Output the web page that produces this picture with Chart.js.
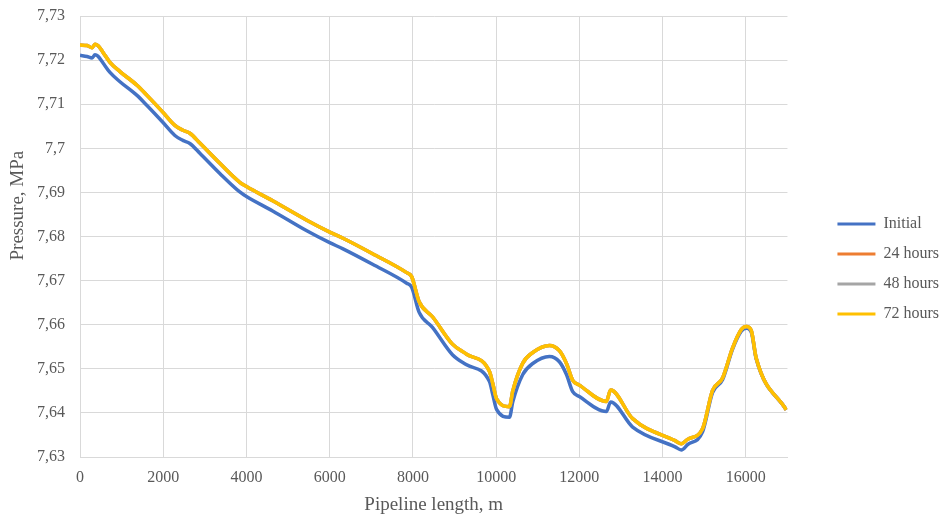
<!DOCTYPE html>
<html>
<head>
<meta charset="utf-8">
<script src="https://cdn.jsdelivr.net/npm/chart.js@4.4.1/dist/chart.umd.min.js"></script>
<style>
  html, body { margin: 0; padding: 0; background: #ffffff; }
  #wrap { width: 944px; height: 515px; position: relative; }
</style>
</head>
<body>
<div id="wrap"><canvas id="chart"></canvas></div>
<script>
// Distance along the pipeline, m
const lengths = [0, 170, 290, 360, 430, 550, 720, 960, 1370, 1610, 1990, 2280, 2470, 2640, 2880, 3360, 3840, 4010, 4630, 5450, 6000, 6320, 7030, 7850, 7970, 8150, 8470, 8950, 9290, 9840, 9920, 10010, 10320, 10400, 10640, 10880, 11280, 11520, 11690, 11840, 12000, 12650, 12750, 13280, 14300, 14450, 14600, 14960, 15200, 15440, 15680, 15890, 16010, 16130, 16250, 16970];

// Pressure profiles, MPa
const initial = [7.7211, 7.7208, 7.7205, 7.7212, 7.7209, 7.7194, 7.7172, 7.7151, 7.7120, 7.7097, 7.7059, 7.7029, 7.7018, 7.7011, 7.6989, 7.6943, 7.6901, 7.6890, 7.6858, 7.6813, 7.6786, 7.6772, 7.6737, 7.6694, 7.6685, 7.6628, 7.6594, 7.6532, 7.6509, 7.6471, 7.6441, 7.6408, 7.6390, 7.6425, 7.6487, 7.6512, 7.6528, 7.6516, 7.6487, 7.6448, 7.6437, 7.6403, 7.6425, 7.6368, 7.6323, 7.6316, 7.6328, 7.6357, 7.6446, 7.6475, 7.6544, 7.6585, 7.6592, 7.6583, 7.6522, 7.6407];
const hours24 = [7.7234, 7.7233, 7.7228, 7.7236, 7.7233, 7.7218, 7.7195, 7.7174, 7.7143, 7.7120, 7.7082, 7.7052, 7.7041, 7.7034, 7.7012, 7.6966, 7.6923, 7.6913, 7.6881, 7.6837, 7.6810, 7.6796, 7.6761, 7.6718, 7.6709, 7.6652, 7.6618, 7.6556, 7.6533, 7.6494, 7.6466, 7.6432, 7.6414, 7.6450, 7.6513, 7.6537, 7.6553, 7.6541, 7.6512, 7.6474, 7.6463, 7.6426, 7.6452, 7.6387, 7.6337, 7.6330, 7.6340, 7.6364, 7.6451, 7.6479, 7.6547, 7.6589, 7.6596, 7.6587, 7.6524, 7.6407];
const hours48 = [7.7234, 7.7233, 7.7228, 7.7236, 7.7233, 7.7218, 7.7195, 7.7174, 7.7143, 7.7120, 7.7082, 7.7052, 7.7041, 7.7034, 7.7012, 7.6966, 7.6923, 7.6913, 7.6881, 7.6837, 7.6810, 7.6796, 7.6761, 7.6718, 7.6709, 7.6652, 7.6618, 7.6556, 7.6533, 7.6494, 7.6466, 7.6432, 7.6414, 7.6450, 7.6513, 7.6537, 7.6553, 7.6541, 7.6512, 7.6474, 7.6463, 7.6426, 7.6452, 7.6387, 7.6337, 7.6330, 7.6340, 7.6364, 7.6451, 7.6479, 7.6547, 7.6589, 7.6596, 7.6587, 7.6524, 7.6407];
const hours72 = [7.7234, 7.7233, 7.7228, 7.7236, 7.7233, 7.7218, 7.7195, 7.7174, 7.7143, 7.7120, 7.7082, 7.7052, 7.7041, 7.7034, 7.7012, 7.6966, 7.6923, 7.6913, 7.6881, 7.6837, 7.6810, 7.6796, 7.6761, 7.6718, 7.6709, 7.6652, 7.6618, 7.6556, 7.6533, 7.6494, 7.6466, 7.6432, 7.6414, 7.6450, 7.6513, 7.6537, 7.6553, 7.6541, 7.6512, 7.6474, 7.6463, 7.6426, 7.6452, 7.6387, 7.6337, 7.6330, 7.6340, 7.6364, 7.6451, 7.6479, 7.6547, 7.6589, 7.6596, 7.6587, 7.6524, 7.6407];

const seriesLabels = ['Initial', '24 hours', '48 hours', '72 hours'];
const seriesValues = [initial, hours24, hours48, hours72];
const seriesColors = ['#4472C4', '#ED7D31', '#A5A5A5', '#FFC000'];

// Axis ranges, ticks and titles
const xMin = 0, xMax = 17000;
const xTicks = [0, 2000, 4000, 6000, 8000, 10000, 12000, 14000, 16000];
const yMin = 7.63, yMax = 7.73;
const yTicks = [7.63, 7.64, 7.65, 7.66, 7.67, 7.68, 7.69, 7.70, 7.71, 7.72, 7.73];
const xTitle = 'Pipeline length, m';
const yTitle = 'Pressure, MPa';

const serif = "'Liberation Serif', 'Times New Roman', serif";
const textGray = '#595959';
const gridGray = '#D9D9D9';
const clear = 'rgba(0,0,0,0)';

const datasets = seriesValues.map((vals, i) => ({
  label: seriesLabels[i],
  data: lengths.map((x, k) => ({ x: x, y: vals[k] })),
  borderColor: seriesColors[i],
  backgroundColor: seriesColors[i],
  borderWidth: 3.5,
  pointRadius: 0,
  pointHoverRadius: 0,
  cubicInterpolationMode: 'monotone',
  fill: false,
  // later profiles are painted over the earlier ones
  order: seriesLabels.length - 1 - i
}));

// Vertical axis title, placed a little above the middle of the plot area
const yTitlePlugin = {
  id: 'yTitle',
  afterDraw(chart) {
    const { ctx, chartArea } = chart;
    const cy = chartArea.top + (chartArea.bottom - chartArea.top) * 0.43;
    ctx.save();
    ctx.translate(18, cy);
    ctx.rotate(-Math.PI / 2);
    ctx.font = '19px ' + serif;
    ctx.fillStyle = textGray;
    ctx.textAlign = 'center';
    ctx.textBaseline = 'middle';
    ctx.fillText(yTitle, 0, 0);
    ctx.restore();
  }
};

new Chart(document.getElementById('chart'), {
  type: 'line',
  data: { datasets: datasets },
  plugins: [yTitlePlugin],
  options: {
    responsive: true,
    maintainAspectRatio: false,
    animation: false,
    events: [],
    layout: { padding: { top: 16, bottom: -7, left: 0, right: -5 } },
    plugins: {
      tooltip: { enabled: false },
      legend: {
        position: 'right',
        labels: {
          boxWidth: 38,
          boxHeight: 3,
          padding: 14,
          color: textGray,
          font: { family: serif, size: 16 },
          sort: (a, b) => a.datasetIndex - b.datasetIndex,
          generateLabels: (chart) =>
            Chart.defaults.plugins.legend.labels.generateLabels(chart).map(item => {
              item.lineWidth = 0;
              item.fillStyle = item.strokeStyle;
              return item;
            })
        }
      }
    },
    scales: {
      x: {
        type: 'linear',
        min: xMin,
        max: xMax,
        afterBuildTicks: (scale) => {
          scale.ticks = xTicks.map(v => ({ value: v }));
        },
        ticks: {
          padding: 5,
          color: textGray,
          font: { family: serif, size: 16 },
          maxRotation: 0,
          autoSkip: false,
          callback: (v) => String(v)
        },
        grid: { color: gridGray, lineWidth: 1, drawTicks: true, tickLength: 6, tickColor: clear },
        border: { display: true, color: gridGray },
        title: {
          display: true,
          text: xTitle,
          color: textGray,
          font: { family: serif, size: 19 },
          padding: { top: 1.4, bottom: 5.6 }
        }
      },
      y: {
        type: 'linear',
        min: yMin,
        max: yMax,
        afterFit: (scale) => { scale.width = 80; },
        afterBuildTicks: (scale) => {
          scale.ticks = yTicks.map(v => ({ value: v }));
        },
        ticks: {
          padding: 6,
          color: textGray,
          font: { family: serif, size: 16 },
          autoSkip: false,
          callback: (v) => String(Number(v.toFixed(2))).replace('.', ',')
        },
        grid: { color: gridGray, lineWidth: 1, drawTicks: true, tickLength: 9, tickColor: clear },
        border: { display: true, color: gridGray },
        title: { display: false }
      },
      // empty strip between the plot area and the legend
      gap: {
        type: 'linear',
        position: 'right',
        display: true,
        afterFit: (scale) => { scale.width = 36; },
        ticks: { display: false },
        grid: { display: false },
        border: { display: false }
      }
    }
  }
});
</script>
</body>
</html>
